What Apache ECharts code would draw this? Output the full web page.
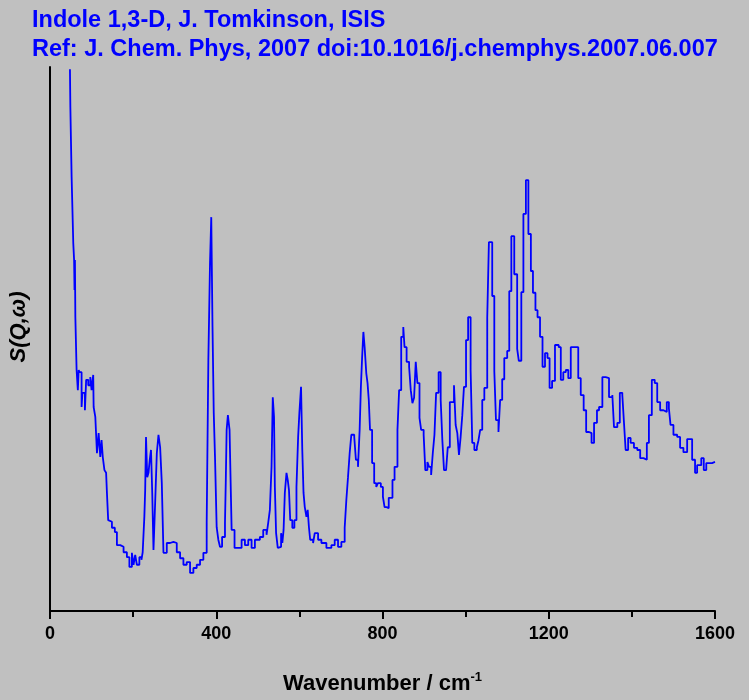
<!DOCTYPE html>
<html>
<head>
<meta charset="utf-8">
<script src="https://cdn.jsdelivr.net/npm/echarts@6/dist/echarts.min.js"></script>
<style>
  html, body { margin: 0; padding: 0; background: #C0C0C0; }
  #chart { width: 749px; height: 700px; }
</style>
</head>
<body>
<div id="chart"></div>
<script>
// INS spectrum of indole 1,3-D (arbitrary intensity units, 0-100)
const wavenumber = [
  48, 49, 52, 53, 56, 58, 59, 60, 61, 64, 67, 69, 71, 76, 78, 84, 87, 92, 97, 100,
  104, 105, 109, 113, 117, 121, 124, 127, 131, 135, 137, 140, 141, 149, 156, 161, 169, 177, 185, 191,
  197, 201, 205, 209, 215, 220, 223, 227, 229, 231, 234, 237, 240, 243, 246, 249, 253, 257, 261, 265,
  269, 273, 281, 289, 297, 305, 313, 321, 329, 337, 345, 353, 361, 369, 377, 381, 385, 388, 391, 394,
  397, 401, 405, 409, 414, 421, 423, 425, 428, 432, 434, 437, 444, 453, 461, 469, 477, 485, 493, 505,
  513, 521, 525, 529, 533, 536, 539, 541, 544, 548, 552, 556, 559, 562, 565, 569, 572, 575, 578, 583,
  588, 593, 597, 600, 604, 607, 610, 613, 617, 620, 623, 626, 633, 637, 645, 653, 665, 677, 685, 693,
  701, 709, 713, 717, 721, 725, 732, 736, 741, 745, 748, 751, 754, 757, 761, 764, 767, 770, 775, 780,
  785, 789, 796, 801, 805, 810, 815, 824, 829, 836, 840, 845, 850, 853, 858, 864, 868, 872, 876, 880,
  884, 889, 893, 899, 903, 908, 912, 917, 921, 925, 929, 935, 940, 944, 948, 953, 957, 962, 972, 976,
  980, 984, 988, 992, 996, 1001, 1006, 1012, 1016, 1021, 1027, 1031, 1035, 1040, 1045, 1052, 1056, 1064, 1069, 1073,
  1079, 1083, 1088, 1093, 1100, 1105, 1110, 1117, 1124, 1128, 1134, 1139, 1145, 1151, 1157, 1162, 1168, 1173, 1179, 1185,
  1191, 1197, 1202, 1208, 1215, 1224, 1229, 1235, 1241, 1247, 1253, 1271, 1277, 1284, 1290, 1297, 1303, 1309, 1316, 1321,
  1329, 1337, 1345, 1353, 1357, 1365, 1371, 1377, 1381, 1385, 1391, 1397, 1405, 1413, 1420, 1428, 1436, 1441, 1448, 1455,
  1461, 1468, 1476, 1484, 1489, 1493, 1500, 1509, 1516, 1524, 1533, 1545, 1552, 1557, 1567, 1573, 1579, 1593, 1600
];
const intensity = [
  99.6, 92.6, 79.8, 76.8, 67.6, 64.5, 59.0, 64.5, 54.0, 44.3, 40.6, 44.3, 43.9, 37.5, 40.1, 36.9, 42.5, 41.5, 43.0, 40.6,
  43.4, 37.5, 35.7, 29.0, 32.7, 28.3, 31.4, 28.3, 25.9, 25.4, 21.7, 16.7, 16.4, 15.3, 14.5, 12.1, 11.8, 10.8, 9.9, 8.1,
  10.7, 8.5, 10.3, 8.5, 9.9, 9.4, 10.8, 17.3, 22.2, 32.0, 24.6, 25.4, 27.8, 29.6, 21.7, 11.2, 19.9, 29.0, 32.4, 30.1,
  23.5, 10.7, 12.5, 12.7, 12.5, 10.8, 9.7, 8.5, 9.0, 7.0, 7.9, 8.5, 9.4, 10.7, 16.2, 46.1, 64.0, 72.4, 52.2, 36.4,
  28.3, 15.4, 13.1, 11.8, 13.6, 16.2, 24.1, 33.3, 36.0, 33.3, 25.9, 14.9, 11.6, 11.6, 13.1, 12.1, 13.1, 11.6, 13.1, 13.6,
  14.9, 14.0, 16.2, 18.6, 26.5, 39.3, 35.7, 22.8, 14.3, 11.6, 11.8, 14.3, 12.5, 14.9, 21.7, 25.4, 24.1, 22.2, 16.7, 15.3,
  16.7, 22.8, 32.0, 36.4, 41.2, 29.6, 21.7, 19.1, 17.3, 18.6, 15.4, 13.1, 12.5, 14.3, 13.1, 12.5, 11.6, 12.1, 13.1, 11.8,
  12.7, 15.3, 20.4, 24.6, 29.0, 32.4, 32.0, 27.8, 26.5, 33.3, 41.2, 46.7, 51.3, 48.5, 43.7, 41.9, 38.8, 33.3, 27.2, 23.5,
  22.8, 23.5, 22.8, 21.0, 19.1, 18.9, 20.8, 24.1, 26.5, 33.3, 40.6, 50.4, 52.2, 48.5, 45.8, 44.9, 40.6, 38.2, 39.2, 45.8,
  41.9, 35.5, 33.3, 32.4, 25.9, 27.4, 26.5, 25.0, 29.0, 32.4, 40.1, 43.9, 38.8, 31.4, 25.9, 25.6, 30.1, 38.4, 41.5, 34.2,
  32.7, 28.7, 32.0, 36.0, 41.2, 49.8, 54.0, 44.3, 30.9, 29.6, 30.1, 31.4, 33.3, 38.8, 41.0, 53.9, 67.8, 57.9, 44.1, 35.1,
  32.9, 38.8, 42.6, 46.5, 47.8, 58.8, 68.9, 61.9, 48.2, 46.0, 58.6, 73.0, 79.2, 69.3, 62.5, 58.5, 55.3, 54.0, 50.4, 44.9,
  47.4, 46.5, 41.0, 42.3, 48.9, 48.5, 42.5, 43.9, 44.3, 42.8, 48.5, 42.8, 39.7, 36.9, 32.9, 32.7, 30.9, 34.6, 36.9, 37.5,
  43.0, 42.8, 39.3, 39.7, 33.8, 34.6, 40.1, 39.7, 34.6, 29.6, 31.8, 30.9, 30.0, 29.6, 28.1, 27.8, 30.9, 36.0, 42.5, 41.9,
  38.4, 36.9, 36.6, 38.4, 37.3, 34.2, 32.4, 32.0, 30.0, 29.2, 31.6, 27.8, 25.4, 26.8, 28.1, 25.9, 27.2, 27.4, 27.4
];
const xTicks = [0, 400, 800, 1200, 1600];

const titleLines = [
  'Indole 1,3-D, J. Tomkinson, ISIS',
  'Ref: J. Chem. Phys, 2007 doi:10.1016/j.chemphys.2007.06.007'
];

const chart = echarts.init(document.getElementById('chart'));

chart.setOption({
  backgroundColor: '#C0C0C0',
  animation: false,
  textStyle: { fontFamily: 'Liberation Sans, Arial, sans-serif' },
  title: {
    text: titleLines.join('\n'),
    left: 32,
    top: 6,
    padding: 0,
    textStyle: {
      color: '#0000FF',
      fontSize: 23.5,
      fontWeight: 'bold',
      lineHeight: 29,
      fontFamily: 'Liberation Sans, Arial, sans-serif'
    }
  },
  grid: { left: 48, right: 34, top: 67, bottom: 89 },
  xAxis: {
    type: 'value',
    min: xTicks[0],
    max: xTicks[xTicks.length - 1],
    interval: 400,
    name: '{a|Wavenumber / cm}{b|-1}',
    nameLocation: 'middle',
    nameGap: 60,
    nameTextStyle: {
      rich: {
        a: { fontSize: 22, fontWeight: 'bold', color: '#000', lineHeight: 26 },
        b: { fontSize: 13, fontWeight: 'bold', color: '#000', verticalAlign: 'top', lineHeight: 14 }
      }
    },
    axisLine: { lineStyle: { color: '#000', width: 2 } },
    axisTick: { inside: false, length: 8, lineStyle: { color: '#000', width: 2 } },
    minorTick: { show: true, splitNumber: 2, length: 6, lineStyle: { color: '#000', width: 2 } },
    splitLine: { show: false },
    axisLabel: {
      color: '#000', fontSize: 18, fontWeight: 'bold', margin: 14,
      formatter: v => String(v)
    }
  },
  yAxis: {
    type: 'value',
    min: 0,
    max: 100,
    name: 'S(Q,ω)',
    nameLocation: 'middle',
    nameGap: 20,
    nameTextStyle: {
      fontSize: 22, fontWeight: 'bold', fontStyle: 'italic', color: '#000',
      padding: [0, 0, 0, 24]
    },
    axisLine: { show: true, lineStyle: { color: '#000', width: 2 } },
    axisTick: { show: false },
    axisLabel: { show: false },
    splitLine: { show: false }
  },
  series: [{
    type: 'line',
    step: 'end',
    showSymbol: false,
    symbol: 'none',
    data: wavenumber.map((w, i) => [w, intensity[i]]),
    lineStyle: { color: '#0000FF', width: 1.8 }
  }]
});
</script>
</body>
</html>
